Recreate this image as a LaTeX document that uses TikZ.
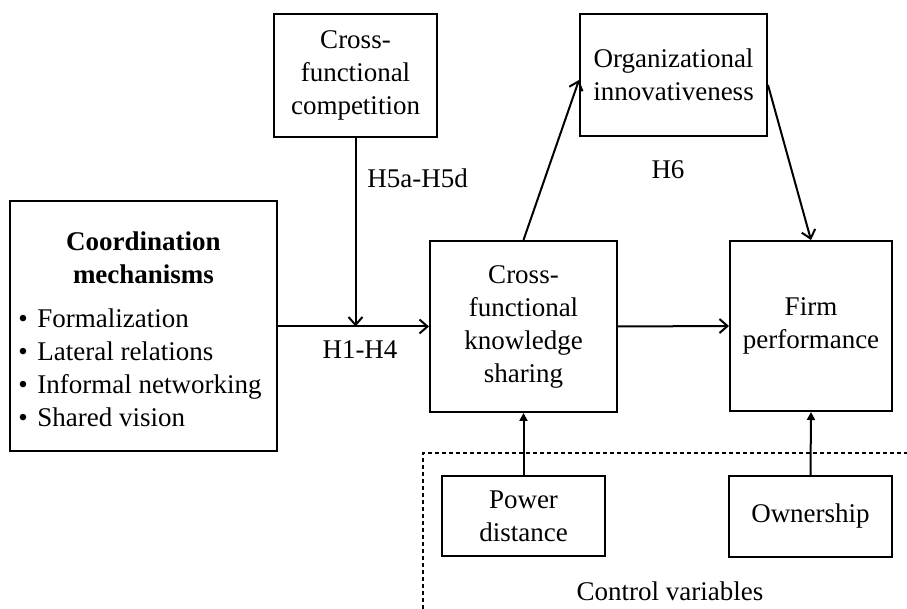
\documentclass[tikz,border=0pt]{standalone}
\usepackage{fontspec}
\setmainfont{Liberation Serif}
\usetikzlibrary{arrows.meta}
\begin{document}
\begin{tikzpicture}[x=0.5pt,y=-0.5pt,
  box/.style={draw,line width=1pt,align=center,inner sep=0pt,font=\fontsize{13.5}{16.5}\selectfont},
  lbl/.style={inner sep=0pt,font=\fontsize{13.5}{16.5}\selectfont},
  arr/.style={line width=1pt,-{Straight Barb[length=4pt,width=7pt]}},
  farr/.style={line width=1pt,-{Triangle[length=4pt,width=4pt]}},
  ctrl/.style={line width=0.6pt,dash pattern=on 2pt off 1.5pt}]
\useasboundingbox (0,0) rectangle (907,609);
% boxes
\node[box,minimum width=133.5pt,minimum height=125pt] (coord) at (143.5,326.5) {};
\node[lbl,font=\fontsize{13.5}{16.5}\selectfont\bfseries,align=center] (head) at (143.5,258) {Coordination\\mechanisms};
\node[lbl,align=left,anchor=west,font=\fontsize{13.5}{16.5}\selectfont] (list) at (18,368) {•\hspace{0.35em}Formalization\\•\hspace{0.35em}Lateral relations\\•\hspace{0.35em}Informal networking\\•\hspace{0.35em}Shared vision};
\node[box,minimum width=81.5pt,minimum height=61.5pt] (comp) at (355.5,75.5) {Cross-\\functional\\competition};
\node[box,minimum width=93.5pt,minimum height=61pt] (org) at (673.5,75) {Organizational\\innovativeness};
\node[box,minimum width=93.5pt,minimum height=85.5pt] (ks) at (523.5,326.5) {Cross-\\functional\\knowledge\\sharing};
\node[box,minimum width=81pt,minimum height=85pt] (firm) at (811,326) {Firm\\performance};
\node[box,minimum width=81.5pt,minimum height=40pt] (pd) at (523.5,516.5) {Power\\distance};
\node[box,minimum width=81.5pt,minimum height=40.5pt] (own) at (810.5,516.5) {Ownership};
% labels
\node[lbl,anchor=west] (h5) at (367,178) {H5a-H5d};
\node[lbl] (h14) at (360,350) {H1-H4};
\node[lbl] (h6) at (668,170) {H6};
\node[lbl] (cv) at (670,591) {Control variables};
% connectors
\coordinate (j) at (comp.south |- coord.east);
\draw[arr] (coord.east) -- (ks.west);
\draw[arr] (comp.south) -- (j);
\draw[arr] (ks.north) -- ([yshift=-2.5pt]org.west);
\draw[arr] ([yshift=-5pt]org.east) -- (firm.north);
\draw[arr] (ks.east) -- (firm.west);
\draw[farr] (pd.north) -- (ks.south);
\draw[farr] (own.north) -- (firm.south);
% control variables frame
\coordinate (d1) at (423,609);
\coordinate (d2) at (423,453);
\coordinate (d3) at (907,453);
\draw[ctrl] (d1) -- (d2) -- (d3);
\end{tikzpicture}
\end{document}
